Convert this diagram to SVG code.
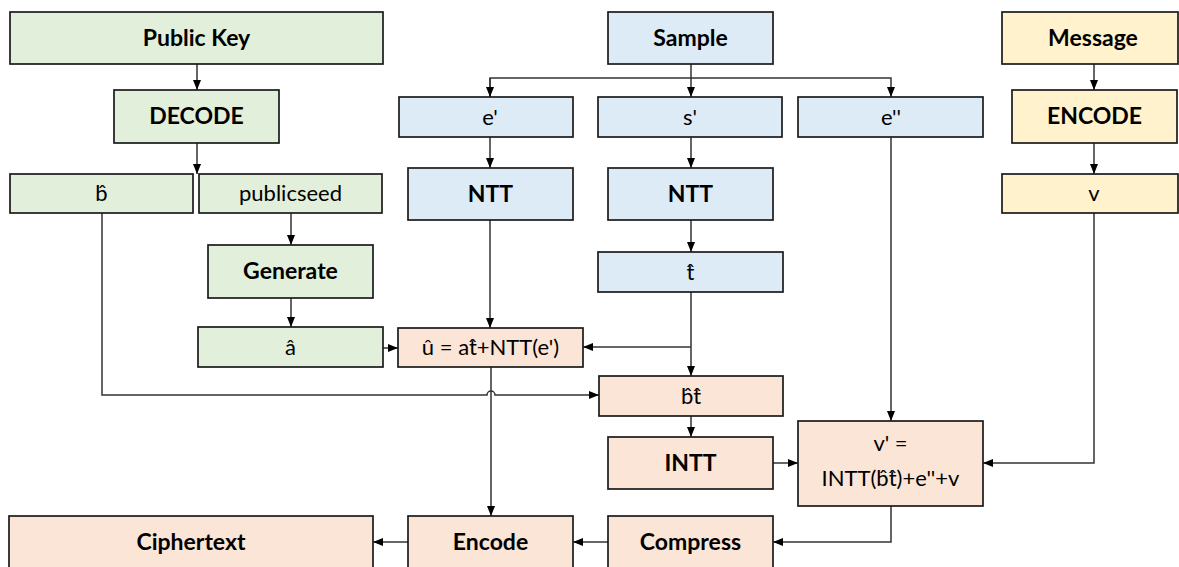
<svg xmlns="http://www.w3.org/2000/svg" width="1179" height="567" viewBox="0 0 1179 567">
<defs>
<style>
.box{stroke:#1a1a1a;stroke-width:1.7}
.g{fill:#E2EFDA}.b{fill:#DDEBF7}.y{fill:#FFF2CC}.o{fill:#FBE5D6}
.t{font-family:Lato,"Open Sans","Liberation Sans",sans-serif;font-size:22px;fill:#000;text-anchor:middle}
.bold{font-weight:bold;font-size:23px}
.c{fill:none;stroke:#333;stroke-width:1.5}
</style>
<marker id="ar" markerUnits="userSpaceOnUse" markerWidth="10" markerHeight="10" viewBox="0 0 10 10" refX="10" refY="5" orient="auto">
<path d="M0,1 L10,5 L0,9 Z" fill="#000"/>
</marker>
</defs>
<rect width="1179" height="567" fill="#fff"/>
<g id="connectors">
<path class="c" d="M197,64 V90" marker-end="url(#ar)"/>
<path class="c" d="M197,143 V174" marker-end="url(#ar)"/>
<path class="c" d="M691,64 V97" marker-end="url(#ar)"/>
<path class="c" d="M490,97 V78 H891 V97" marker-end="url(#ar)"/>
<path class="c" d="M490,78 V97" marker-end="url(#ar)"/>
<path class="c" d="M490,137 V168" marker-end="url(#ar)"/>
<path class="c" d="M691,137 V168" marker-end="url(#ar)"/>
<path class="c" d="M691,220 V252" marker-end="url(#ar)"/>
<path class="c" d="M1094,64 V90" marker-end="url(#ar)"/>
<path class="c" d="M1094,143 V174" marker-end="url(#ar)"/>
<path class="c" d="M291,213 V245" marker-end="url(#ar)"/>
<path class="c" d="M291,298 V327" marker-end="url(#ar)"/>
<path class="c" d="M383,348 H398" marker-end="url(#ar)"/>
<path class="c" d="M490,220 V328" marker-end="url(#ar)"/>
<path class="c" d="M691,292 V376" marker-end="url(#ar)"/>
<path class="c" d="M691,347 H583" marker-end="url(#ar)"/>
<path class="c" d="M102,213 V395 H487 A4,4 0 0 1 495,395 H599" marker-end="url(#ar)"/>
<path class="c" d="M491,367 V516" marker-end="url(#ar)"/>
<path class="c" d="M691,416 V437" marker-end="url(#ar)"/>
<path class="c" d="M773,463 H798" marker-end="url(#ar)"/>
<path class="c" d="M891,137 V421" marker-end="url(#ar)"/>
<path class="c" d="M1094,213 V463 H983" marker-end="url(#ar)"/>
<path class="c" d="M891,506 V542 H773" marker-end="url(#ar)"/>
<path class="c" d="M608,542 H573" marker-end="url(#ar)"/>
<path class="c" d="M408,542 H373" marker-end="url(#ar)"/>
</g>
<g id="publickey"><rect class="box g" x="10" y="12" width="373" height="52"/><text class="t bold" x="196.5" y="46">Public Key</text></g>
<g id="decode"><rect class="box g" x="114" y="90" width="165" height="53"/><text class="t bold" x="196.5" y="124">DECODE</text></g>
<g id="bhat"><rect class="box g" x="10" y="174" width="183" height="39"/><text class="t" x="101.5" y="201">b̂</text></g>
<g id="publicseed"><rect class="box g" x="199" y="174" width="183" height="39"/><text class="t" x="290.5" y="201">publicseed</text></g>
<g id="generate"><rect class="box g" x="208" y="245" width="165" height="53"/><text class="t bold" x="290.5" y="279">Generate</text></g>
<g id="ahat"><rect class="box g" x="198" y="327" width="185" height="40"/><text class="t" x="290.5" y="355">â</text></g>
<g id="sample"><rect class="box b" x="608" y="12" width="165" height="52"/><text class="t bold" x="690.5" y="46">Sample</text></g>
<g id="eprime"><rect class="box b" x="399" y="97" width="174" height="40"/><text class="t" x="490" y="125">e'</text></g>
<g id="sprime"><rect class="box b" x="598" y="97" width="184" height="40"/><text class="t" x="690" y="125">s'</text></g>
<g id="edprime"><rect class="box b" x="798" y="97" width="185" height="40"/><text class="t" x="891" y="125">e''</text></g>
<g id="ntt1"><rect class="box b" x="408" y="168" width="165" height="52"/><text class="t bold" x="490.5" y="202">NTT</text></g>
<g id="ntt2"><rect class="box b" x="608" y="168" width="165" height="52"/><text class="t bold" x="690.5" y="202">NTT</text></g>
<g id="that"><rect class="box b" x="598" y="252" width="185" height="40"/><text class="t" x="690.5" y="280">t̂</text></g>
<g id="message"><rect class="box y" x="1002" y="12" width="176" height="52"/><text class="t bold" x="1093" y="46">Message</text></g>
<g id="encodeM"><rect class="box y" x="1012" y="90" width="165" height="53"/><text class="t bold" x="1094.5" y="124">ENCODE</text></g>
<g id="v"><rect class="box y" x="1002" y="174" width="176" height="39"/><text class="t" x="1094" y="201">v</text></g>
<g id="uhat"><rect class="box o" x="398" y="328" width="185" height="39"/><text class="t" x="490.5" y="355">û = at̂+NTT(e')</text></g>
<g id="bt"><rect class="box o" x="599" y="376" width="184" height="40"/><text class="t" x="691" y="404">b̂t̂</text></g>
<g id="intt"><rect class="box o" x="608" y="437" width="165" height="52"/><text class="t bold" x="690.5" y="471">INTT</text></g>
<g id="vprime"><rect class="box o" x="798" y="421" width="185" height="85"/><text class="t" x="890.5" y="451">v' =</text><text class="t" x="890.5" y="486">INTT(b̂t̂)+e''+v</text></g>
<g id="ciphertext"><rect class="box o" x="9" y="516" width="364" height="53"/><text class="t bold" x="191" y="550">Ciphertext</text></g>
<g id="encode"><rect class="box o" x="408" y="516" width="165" height="53"/><text class="t bold" x="490.5" y="550">Encode</text></g>
<g id="compress"><rect class="box o" x="608" y="516" width="165" height="53"/><text class="t bold" x="690.5" y="550">Compress</text></g>
</svg>
